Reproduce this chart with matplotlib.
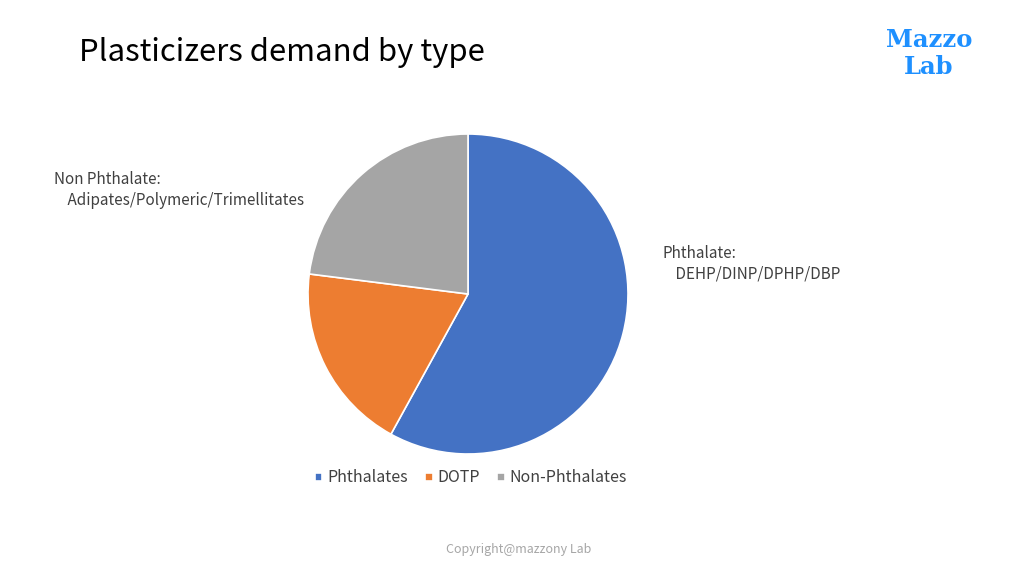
import matplotlib
matplotlib.use("Agg")
import matplotlib.pyplot as plt

categories = ["Phthalates", "DOTP", "Non-Phthalates"]
values = [58, 19, 23]
colors = ["#4472C4", "#ED7D31", "#A5A5A5"]
title = "Plasticizers demand by type"
label_right = "Phthalate:\n    DEHP/DINP/DPHP/DBP"
label_left = "Non Phthalate:\n    Adipates/Polymeric/Trimellitates"
copyright_text = "Copyright@mazzony Lab"

plt.rcParams['font.family'] = ['Noto Sans CJK JP', 'DejaVu Sans']

W, H = 1024, 576
fig = plt.figure(figsize=(W/100, H/100), dpi=100)
fig.patch.set_facecolor("white")

cx, cy, r = 468, 294, 160
ax = fig.add_axes([(cx - r)/W, (H - cy - r)/H, 2*r/W, 2*r/H])
wedges, _ = ax.pie(values, colors=colors, startangle=90, counterclock=False,
                   radius=1, wedgeprops=dict(edgecolor="white", linewidth=1.2))
ax.set_xlim(-1, 1)
ax.set_ylim(-1, 1)
ax.set_aspect("equal")
ax.axis("off")

fig.text(79/W, 1 - 53/H, title, fontsize=22.4, color="#000000", va="center", ha="left")

fig.text(54/W, 1 - 190/H, label_left, fontsize=11, color="#404040", va="center", ha="left", linespacing=1.3)
fig.text(662/W, 1 - 264/H, label_right, fontsize=11, color="#404040", va="center", ha="left", linespacing=1.3)

leg = fig.legend(wedges, categories, loc="center", bbox_to_anchor=(471/W, 1 - 478/H),
                 ncol=3, frameon=False, fontsize=11.5, handlelength=0.45, handleheight=0.45,
                 handletextpad=0.3, columnspacing=1.1, labelcolor="#404040")

fig.text(519/W, 1 - 549/H, copyright_text, fontsize=9, color="#A6A6A6", va="center", ha="center")

logo_color = "#1E90FF"
fig.text(929/W, 1 - 40/H, "Mazzo", fontsize=17.5, fontweight="heavy", family="DejaVu Serif",
         color=logo_color, va="center", ha="center")
fig.text(929/W, 1 - 67/H, "Lab", fontsize=17.5, fontweight="heavy", family="DejaVu Serif",
         color=logo_color, va="center", ha="center")

fig.savefig("out.png", dpi=100, facecolor="white")
